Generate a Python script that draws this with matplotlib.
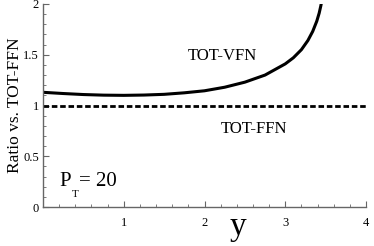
import matplotlib
matplotlib.use("Agg")
import matplotlib.pyplot as plt
from matplotlib.ticker import MultipleLocator

# Data
vfn_x = [0.0, 0.25, 0.5, 0.75, 1.0, 1.25, 1.5, 1.75, 2.0, 2.25, 2.5, 2.75, 3.0, 3.1, 3.2, 3.28, 3.34, 3.39, 3.42, 3.44, 3.45]
vfn_y = [1.13, 1.118, 1.108, 1.102, 1.10, 1.103, 1.11, 1.125, 1.145, 1.18, 1.23, 1.30, 1.41, 1.47, 1.55, 1.64, 1.73, 1.83, 1.91, 1.98, 2.02]
ffn_x = [0.0, 4.0]
ffn_y = [1.0, 1.0]

plt.rcParams['font.family'] = ['Liberation Serif', 'DejaVu Serif']
fig = plt.figure(figsize=(3.74, 2.46), dpi=100)
ax = fig.add_axes([43/374, 1-207/246, (366-43)/374, (207-4)/246])
ax.plot(vfn_x, vfn_y, color='black', lw=2.2, solid_capstyle='butt')
ax.plot(ffn_x, ffn_y, color='black', lw=2.0, dashes=(2.0, 1.0))
ax.set_xlim(0, 4)
ax.set_ylim(0, 2)
for s in ['top', 'right']:
    ax.spines[s].set_visible(False)
for s in ['left', 'bottom']:
    ax.spines[s].set_color('#666666')
    ax.spines[s].set_linewidth(1.0)
ax.xaxis.set_major_locator(MultipleLocator(1))
ax.xaxis.set_minor_locator(MultipleLocator(0.2))
ax.yaxis.set_major_locator(MultipleLocator(0.5))
ax.yaxis.set_minor_locator(MultipleLocator(0.1))
ax.tick_params(which='both', direction='in', color='#666666', labelsize=9)
ax.tick_params(which='major', length=4, width=0.8)
ax.tick_params(which='minor', length=2, width=0.6)
ax.set_xticks([1, 2, 3, 4])
ax.set_xticklabels(['1', '2', '3', '4'])
ax.set_yticks([0, 0.5, 1, 1.5, 2])
ax.set_yticklabels(['0', '0.5', '1', '1.5', '2'])
ax.tick_params(axis='x', pad=7)
ax.tick_params(axis='y', pad=3)
ax.set_ylabel('Ratio vs. TOT-FFN', fontsize=12.5, labelpad=0)
ax.text(2.42, -0.19, 'y', fontsize=24, ha='center', va='center', clip_on=False)
ax.text(2.22, 1.49, 'TOT-VFN', fontsize=12, ha='center', va='center')
ax.text(2.61, 0.77, 'TOT-FFN', fontsize=12, ha='center', va='center')
ax.text(0.2, 0.25, 'P', fontsize=15, ha='left', va='center')
ax.text(0.40, 0.12, 'T', fontsize=8, ha='center', va='center')
ax.text(0.44, 0.25, '= 20', fontsize=15, ha='left', va='center')
fig.savefig('out.png', dpi=100)
